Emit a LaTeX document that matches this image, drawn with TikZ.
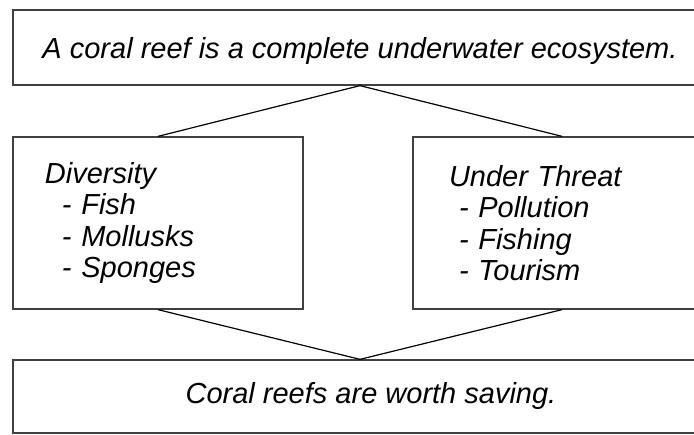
\documentclass[tikz,border=0pt]{standalone}
\usepackage{fontspec}
\setmainfont{Liberation Sans}
\usepackage{tikz}

\begin{document}
\begin{tikzpicture}[x=1pt,y=-1pt,
    box/.style={draw=black!75,line width=1.3pt,rectangle,inner sep=0pt,
        font=\fontsize{29}{31.5}\selectfont\itshape},
    link/.style={line width=1.2pt,black}]
    \useasboundingbox (0,0) rectangle (694,435);
    %Boxes
    \node [box,minimum width=694,minimum height=75,text depth=0pt] (reef) at (360,47.5)
        {A coral reef is a complete underwater ecosystem.};
    \node [box,minimum height=172,text width=226,inner xsep=32,align=left] (diversity) at (158,223)
        {Diversity\\\hspace*{17pt}- Fish\\\hspace*{17pt}- Mollusks\\\hspace*{17pt}- Sponges};
    \node [box,minimum height=172,text width=226,inner xsep=36,align=left] (threat) at (562,223)
        {Under Threat\\\hspace*{10pt}- Pollution\\\hspace*{10pt}- Fishing\\\hspace*{10pt}- Tourism};
    \node [box,minimum width=694,minimum height=73] (saving) at (360,396.5)
        {\hspace*{22pt}Coral reefs are worth saving.};

    %Links
    \draw [link] (diversity.north) -- (reef.south) -- (threat.north);
    \draw [link] (diversity.south) -- (saving.north) -- (threat.south);
\end{tikzpicture}
\end{document}
